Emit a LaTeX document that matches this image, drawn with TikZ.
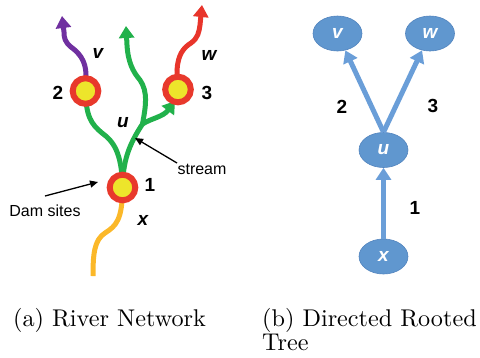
\documentclass[tikz,border=0pt]{standalone}
\usepackage{fontspec}
\usetikzlibrary{arrows.meta,shapes.geometric}
\newfontfamily\labfont{Liberation Sans}
\newfontfamily\capfont{lmroman10-regular}[Extension=.otf]

\definecolor{damred}{HTML}{E8392C}
\definecolor{damyellow}{HTML}{EDE52B}
\definecolor{rgreen}{HTML}{21B14B}
\definecolor{rpurple}{HTML}{7030A0}
\definecolor{rred}{HTML}{E8352B}
\definecolor{rorange}{HTML}{FBB829}
\definecolor{tfill}{HTML}{6097CF}
\definecolor{tline}{HTML}{5284BE}
\definecolor{tedgecol}{HTML}{6A9ED8}

\tikzset{
  dam/.style={circle, draw=damred, line width=6pt, fill=damyellow,
    minimum size=25.6pt, inner sep=0pt},
  river/.style={line width=5pt},
  riverhead/.style={-{Triangle[length=12pt,width=15pt]}},
  numlbl/.style={font=\labfont\bfseries\fontsize{19}{21}\selectfont, inner sep=0pt},
  varlbl/.style={font=\labfont\bfseries\itshape\fontsize{19}{21}\selectfont, inner sep=0pt},
  notelbl/.style={font=\labfont\fontsize{16}{18}\selectfont, inner sep=0pt},
  pointer/.style={line width=1.3pt, -{Triangle[length=8pt,width=7pt]}},
  tnode/.style={ellipse, fill=tfill, draw=tline, line width=0.6pt,
    minimum width=49pt, minimum height=35pt, inner sep=0pt, text=white,
    font=\labfont\bfseries\itshape\fontsize{19}{21}\selectfont},
  tedge/.style={line width=5pt, draw=tedgecol, -{Triangle[length=12pt,width=15pt]}},
  caption/.style={font=\capfont\fontsize{24.2}{24}\selectfont, inner sep=0pt}
}

\begin{document}
\begin{tikzpicture}[x=1pt,y=-1pt]
\useasboundingbox (0,0) rectangle (480,357);

% ---------------- river network ----------------
\coordinate (c1) at (122.5,187.5);
\coordinate (c2) at (85.5,91);
\coordinate (c3) at (178,89.5);
\coordinate (j)  at (142.5,124);
\coordinate (src) at (93,276);
\coordinate (tipU) at (126,26);
\coordinate (tip3) at (175,101);
\coordinate (tipV) at (62,16);
\coordinate (tipW) at (202,5);

% streams, drawn below the dam sites
\draw[river, rorange] (src) .. controls (93,255) and (94,240) .. (105,233)
  .. controls (116,226) and (122.5,220) .. (c1);
\draw[river, rgreen] (c1) .. controls (122,152) and (113,141) .. (102,133)
  .. controls (91,124) and (86,116) .. (c2);
\draw[river, rgreen] (c1) .. controls (123,162) and (128,146) .. (j);
\draw[river, rgreen, riverhead] (j) .. controls (146,105) and (148,92) .. (140,80)
  .. controls (133,72) and (128,62) .. (127,45) -- (tipU);
\draw[river, rgreen, riverhead] (j) .. controls (152,118) and (163,117) .. (tip3);
\draw[river, rpurple, riverhead] (c2) -- (86,75) .. controls (86,60) and (78,52) .. (71,47)
  .. controls (65,42) and (64,38) .. (64,32) -- (tipV);
\draw[river, rred, riverhead] (c3) -- (177,70) .. controls (178,55) and (183,48) .. (191,43)
  .. controls (198,38) and (199,32) .. (200,25) -- (tipW);

% dam sites
\node[dam] (d1) at (c1) {};
\node[dam] (d2) at (c2) {};
\node[dam] (d3) at (c3) {};

\node[numlbl] (n1) at (150,185) {1};
\node[numlbl] (n2) at (58,93) {2};
\node[numlbl] (n3) at (207,93) {3};
\node[varlbl] (lv) at (98,53) {v};
\node[varlbl] (lw) at (209,55) {w};
\node[varlbl] (lu) at (123,123) {u};
\node[varlbl] (lx) at (143,220) {x};

\node[notelbl] (streamlbl) at (202,169) {stream};
\node[notelbl] (damlbl) at (45,211) {Dam sites};
\coordinate (sa) at (177,163);
\coordinate (sb) at (135,138);
\coordinate (da) at (45,196);
\coordinate (db) at (98,182);
\draw[pointer] (sa) -- (sb);
\draw[pointer] (da) -- (db);

% ---------------- directed rooted tree ----------------
\node[tnode] (tv) at (337.5,33.5) {v};
\node[tnode] (tw) at (430,33.5) {w};
\node[tnode] (tu) at (383.5,150) {u};
\node[tnode] (tx) at (383.5,256.5) {x};

\draw[tedge] (tu.north) -- (tv);
\draw[tedge] (tu.north) -- (tw);
\draw[tedge] (tx.north) -- (tu.south);

\node[numlbl] (e2) at (342,107) {2};
\node[numlbl] (e3) at (433,106) {3};
\node[numlbl] (e1) at (415,208) {1};

% ---------------- captions ----------------
\node[caption, anchor=base west] (capa) at (13,326) {(a) River Network};
\node[caption, anchor=base west, align=left] (capb) at (262,350) {(b) Directed Rooted\\Tree};
\end{tikzpicture}
\end{document}
